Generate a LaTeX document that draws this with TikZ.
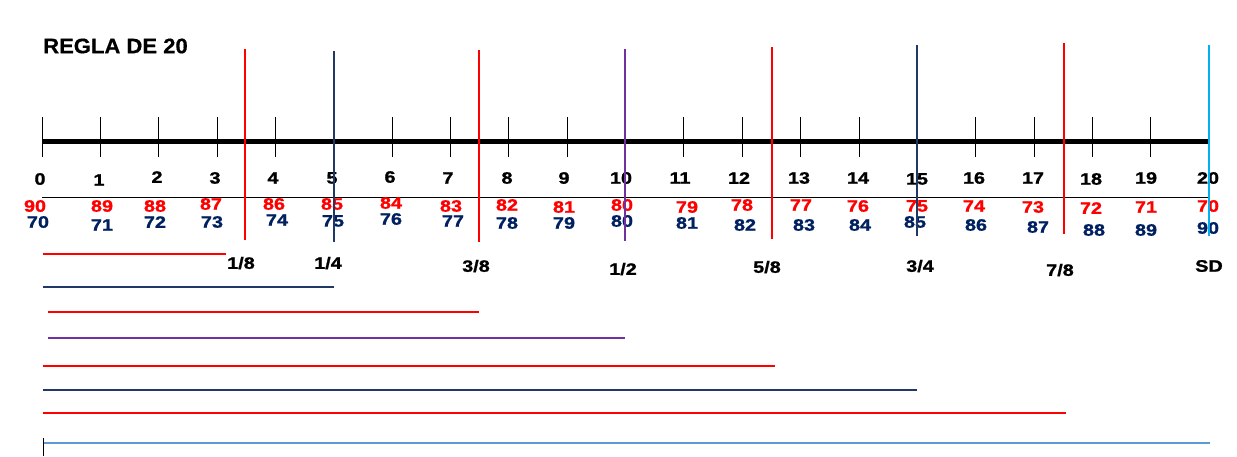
\documentclass[tikz,border=0pt]{standalone}
\usepackage{fontspec}
\setmainfont{Liberation Sans}[FakeStretch=1.05,BoldFeatures={FakeBold=0.6}]
\newfontfamily\numfont{Liberation Sans}[FakeStretch=1.2,BoldFeatures={FakeBold=1.2}]
\definecolor{rojo}{RGB}{255,0,0}
\definecolor{marino}{RGB}{0,32,96}
\definecolor{marinolinea}{RGB}{31,56,100}
\definecolor{morado}{RGB}{112,48,160}
\definecolor{celeste}{RGB}{0,176,240}
\definecolor{azulclaro}{RGB}{91,155,213}
\begin{document}
\begin{tikzpicture}[x=1pt,y=-1pt,every node/.style={inner sep=0pt},
  num/.style={font=\numfont\bfseries\fontsize{16.5}{16.5}\selectfont},
  rnum/.style={num,text=rojo},
  bnum/.style={num,text=marino},
  tick/.style={line width=0.8pt},
  marca/.style={line width=2pt}]
\useasboundingbox (0,0) rectangle (1237,456);

\node[font=\bfseries\fontsize{21}{21}\selectfont,anchor=west] (titulo) at (43,46) {REGLA DE 20};

\coordinate (k0)  at (42,141);
\coordinate (k1)  at (100.35,141);
\coordinate (k2)  at (158.7,141);
\coordinate (k3)  at (217.05,141);
\coordinate (k4)  at (275.4,141);
\coordinate (k5)  at (333.75,141);
\coordinate (k6)  at (392.1,141);
\coordinate (k7)  at (450.45,141);
\coordinate (k8)  at (508.8,141);
\coordinate (k9)  at (567.15,141);
\coordinate (k10) at (625.5,141);
\coordinate (k11) at (683.85,141);
\coordinate (k12) at (742.2,141);
\coordinate (k13) at (800.55,141);
\coordinate (k14) at (858.9,141);
\coordinate (k15) at (917.25,141);
\coordinate (k16) at (975.6,141);
\coordinate (k17) at (1033.95,141);
\coordinate (k18) at (1092.3,141);
\coordinate (k19) at (1150.65,141);
\coordinate (k20) at (1209,141);

\foreach \k in {0,...,20}
  \draw[tick] (k\k) ++(0,-24) -- ++(0,40);
\draw[line width=5pt] (k0) -- (k20);

\coordinate (base0)  at (42,197);
\coordinate (base20) at (1210,197);
\draw[line width=0.9pt] (base0) -- (base20);

\node[num] (n0)  at (40,179)   {0};
\node[num] (n1)  at (99,180)   {1};
\node[num] (n2)  at (157,177)  {2};
\node[num] (n3)  at (215,178)  {3};
\node[num] (n4)  at (273,178)  {4};
\node[num] (n5)  at (332,178)  {5};
\node[num] (n6)  at (390,177)  {6};
\node[num] (n7)  at (448,178)  {7};
\node[num] (n8)  at (507,178)  {8};
\node[num] (n9)  at (564,178)  {9};
\node[num] (n10) at (621,178)  {10};
\node[num] (n11) at (680,178)  {11};
\node[num] (n12) at (739,178)  {12};
\node[num] (n13) at (799,178)  {13};
\node[num] (n14) at (858,178)  {14};
\node[num] (n15) at (917,179)  {15};
\node[num] (n16) at (974,178)  {16};
\node[num] (n17) at (1033,178) {17};
\node[num] (n18) at (1091,179) {18};
\node[num] (n19) at (1146,178) {19};
\node[num] (n20) at (1208,178) {20};

\node[rnum] (r0)  at (35,206)   {90};
\node[rnum] (r1)  at (102,206)  {89};
\node[rnum] (r2)  at (155,206)  {88};
\node[rnum] (r3)  at (211,204)  {87};
\node[rnum] (r4)  at (274,204)  {86};
\node[rnum] (r5)  at (332,204)  {85};
\node[rnum] (r6)  at (391,203)  {84};
\node[rnum] (r7)  at (451,206)  {83};
\node[rnum] (r8)  at (507,205)  {82};
\node[rnum] (r9)  at (564,207)  {81};
\node[rnum] (r10) at (622,205)  {80};
\node[rnum] (r11) at (687,207)  {79};
\node[rnum] (r12) at (742,205)  {78};
\node[rnum] (r13) at (801,205)  {77};
\node[rnum] (r14) at (858,206)  {76};
\node[rnum] (r15) at (917,206)  {75};
\node[rnum] (r16) at (974,206)  {74};
\node[rnum] (r17) at (1033,207) {73};
\node[rnum] (r18) at (1091,208) {72};
\node[rnum] (r19) at (1146,207) {71};
\node[rnum] (r20) at (1208,206) {70};

\node[bnum] (b0)  at (38,222)   {70};
\node[bnum] (b1)  at (102,225)  {71};
\node[bnum] (b2)  at (155,222)  {72};
\node[bnum] (b3)  at (212,222)  {73};
\node[bnum] (b4)  at (277,220)  {74};
\node[bnum] (b5)  at (333,221)  {75};
\node[bnum] (b6)  at (391,219)  {76};
\node[bnum] (b7)  at (453,221)  {77};
\node[bnum] (b8)  at (507,223)  {78};
\node[bnum] (b9)  at (564,223)  {79};
\node[bnum] (b10) at (622,221)  {80};
\node[bnum] (b11) at (687,223)  {81};
\node[bnum] (b12) at (745,225)  {82};
\node[bnum] (b13) at (804,225)  {83};
\node[bnum] (b14) at (860,225)  {84};
\node[bnum] (b15) at (915,222)  {85};
\node[bnum] (b16) at (976,225)  {86};
\node[bnum] (b17) at (1038,227) {87};
\node[bnum] (b18) at (1094,230) {88};
\node[bnum] (b19) at (1146,230) {89};
\node[bnum] (b20) at (1208,228) {90};

\coordinate (o18t) at (245,49);   \coordinate (o18b) at (245,240);
\coordinate (o14t) at (334,51);   \coordinate (o14b) at (334,242);
\coordinate (o38t) at (479,50);   \coordinate (o38b) at (479,242);
\coordinate (o12t) at (625,49);   \coordinate (o12b) at (625,241);
\coordinate (o58t) at (772,47);   \coordinate (o58b) at (772,239);
\coordinate (o34t) at (917,45);   \coordinate (o34b) at (917,236);
\coordinate (o78t) at (1064,43);  \coordinate (o78b) at (1064,234);
\coordinate (osdt) at (1209,45);  \coordinate (osdb) at (1209,236);

\draw[marca,rojo]        (o18t) -- (o18b);
\draw[marca,marinolinea] (o14t) -- (o14b);
\draw[marca,rojo]        (o38t) -- (o38b);
\draw[marca,morado]      (o12t) -- (o12b);
\draw[marca,rojo]        (o58t) -- (o58b);
\draw[marca,marinolinea] (o34t) -- (o34b);
\draw[marca,rojo]        (o78t) -- (o78b);
\draw[marca,celeste]     (osdt) -- (osdb);

\node[num] (f18) at (241,263)  {1/8};
\node[num] (f14) at (328,263)  {1/4};
\node[num] (f38) at (476,266)  {3/8};
\node[num] (f12) at (623,269)  {1/2};
\node[num] (f58) at (767,267)  {5/8};
\node[num] (f34) at (920,266)  {3/4};
\node[num] (f78) at (1060,270) {7/8};
\node[num] (fsd) at (1209,266) {SD};

\coordinate (h18a) at (43,254);  \coordinate (h18b) at (226,254);
\coordinate (h14a) at (43,287);  \coordinate (h14b) at (334,287);
\coordinate (h38a) at (48,312);  \coordinate (h38b) at (479,312);
\coordinate (h12a) at (48,338);  \coordinate (h12b) at (625,338);
\coordinate (h58a) at (43,366);  \coordinate (h58b) at (775,366);
\coordinate (h34a) at (43,390);  \coordinate (h34b) at (917,390);
\coordinate (h78a) at (43,413);  \coordinate (h78b) at (1066,413);
\coordinate (hsda) at (44,443);  \coordinate (hsdb) at (1210,443);

\draw[marca,rojo]        (h18a) -- (h18b);
\draw[marca,marinolinea] (h14a) -- (h14b);
\draw[marca,rojo]        (h38a) -- (h38b);
\draw[marca,morado]      (h12a) -- (h12b);
\draw[marca,rojo]        (h58a) -- (h58b);
\draw[marca,marinolinea] (h34a) -- (h34b);
\draw[marca,rojo]        (h78a) -- (h78b);
\draw[marca,azulclaro]   (hsda) -- (hsdb);

\coordinate (m0) at (43,438);
\coordinate (m1) at (43,456);
\draw[tick] (m0) -- (m1);
\end{tikzpicture}
\end{document}
